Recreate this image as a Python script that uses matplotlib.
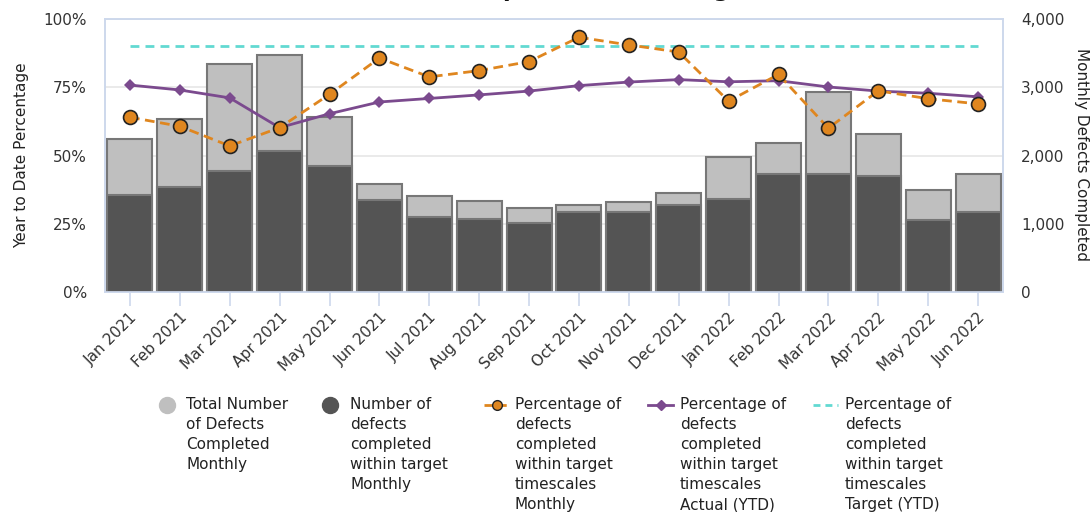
import matplotlib
matplotlib.use("Agg")
import matplotlib.pyplot as plt
from matplotlib.lines import Line2D
from matplotlib.ticker import FuncFormatter, MultipleLocator
import numpy as np

months = ["Jan 2021", "Feb 2021", "Mar 2021", "Apr 2021", "May 2021", "Jun 2021",
          "Jul 2021", "Aug 2021", "Sep 2021", "Oct 2021", "Nov 2021", "Dec 2021",
          "Jan 2022", "Feb 2022", "Mar 2022", "Apr 2022", "May 2022", "Jun 2022"]
total_completed = [2246, 2539, 3345, 3473, 2560, 1578, 1411, 1333, 1226, 1279, 1319, 1450,
                   1973, 2188, 2935, 2320, 1499, 1724]
within_target = [1421, 1534, 1773, 2070, 1851, 1348, 1104, 1070, 1011, 1177, 1177, 1270,
                 1363, 1734, 1734, 1705, 1050, 1177]
pct_monthly = [64.0, 60.7, 53.5, 60.2, 72.4, 85.7, 78.8, 81.1, 84.4, 93.3, 90.5, 87.9,
               69.9, 79.7, 60.0, 73.7, 70.8, 68.9]
pct_ytd = [75.8, 74.0, 71.1, 60.2, 65.3, 69.6, 70.9, 72.2, 73.6, 75.6, 76.9, 77.8,
           77.0, 77.4, 75.1, 73.6, 72.8, 71.5]
target_ytd = [90] * len(months)

W, H = 1091, 512
plt.rcParams["font.family"] = "DejaVu Sans"
fig = plt.figure(figsize=(W / 100, H / 100), dpi=100)

def fx(x):
    return x / W

def fy(y):
    return 1 - y / H

ax = fig.add_axes([fx(105), fy(292), fx(1003) - fx(105), fy(19) - fy(292)])
ax_bar = ax.twinx()

x = np.arange(len(months))
spine_col = "#cdd8ec"
text_col = "#333333"

# bars on the right-hand axis
ax_bar.bar(x, total_completed, width=0.9, color="#bfbfbf", edgecolor="#777777",
           linewidth=1.5, zorder=2)
ax_bar.bar(x, within_target, width=0.9, color="#545454", edgecolor="#777777",
           linewidth=1.5, zorder=3)
ax_bar.set_ylim(0, 4000)
ax_bar.yaxis.set_major_locator(MultipleLocator(1000))
ax_bar.yaxis.set_major_formatter(FuncFormatter(lambda v, p: f"{int(v):,}"))
ax_bar.grid(axis="y", color="#e6e6e6", linewidth=1.2, zorder=0)
ax_bar.set_axisbelow(True)
ax_bar.tick_params(axis="y", length=0, pad=13, labelsize=11, labelcolor=text_col)

# percentage lines on the left-hand axis, drawn above the bars
ax.set_zorder(ax_bar.get_zorder() + 1)
ax.patch.set_visible(False)
ax.plot(x, target_ytd, color="#62d9d2", linestyle=(0, (3.2, 2.2)), linewidth=2, zorder=3)
ax.plot(x, pct_ytd, color="#7b4a8e", linewidth=2, marker="D", markersize=6,
        markeredgewidth=0, zorder=4)
ax.plot(x, pct_monthly, color="#df861f", linestyle=(0, (3.5, 2)), linewidth=2,
        marker="o", markersize=10, markerfacecolor="#df861f",
        markeredgecolor="#222222", markeredgewidth=1.2, zorder=5)
ax.set_ylim(0, 100)
ax.yaxis.set_major_locator(MultipleLocator(25))
ax.yaxis.set_major_formatter(FuncFormatter(lambda v, p: f"{int(v)}%"))
ax.tick_params(axis="y", length=0, pad=13, labelsize=11, labelcolor=text_col)

ax.set_xlim(-0.5, len(months) - 0.5)
ax.set_xticks(x)
ax.set_xticklabels(months, rotation=45, ha="right", rotation_mode="anchor",
                   fontsize=11, color=text_col)
ax.tick_params(axis="x", length=10, width=1.2, color=spine_col, pad=3)
ax_bar.tick_params(axis="x", length=0)

for a in (ax, ax_bar):
    for s in a.spines.values():
        s.set_color(spine_col)
        s.set_linewidth(1.2)

# axis titles
fig.text(fx(22), fy(155), "Year to Date Percentage", rotation=90, fontsize=11,
         color="#222222", ha="center", va="center")
fig.text(fx(1082), fy(155), "Monthly Defects Completed", rotation=-90, fontsize=11,
         color="#222222", ha="center", va="center")

# title, mostly above the top edge of the canvas
fig.text(0.506, fy(-3), "Defects completed within target", fontsize=16,
         fontweight="bold", ha="center", va="baseline", color="#111111")

# legend below the chart
legend_items = [
    ("circle", "#bfbfbf", "Total Number\nof Defects\nCompleted\nMonthly"),
    ("circle", "#545454", "Number of\ndefects\ncompleted\nwithin target\nMonthly"),
    ("monthly", "#df861f", "Percentage of\ndefects\ncompleted\nwithin target\ntimescales\nMonthly"),
    ("ytd", "#7b4a8e", "Percentage of\ndefects\ncompleted\nwithin target\ntimescales\nActual (YTD)"),
    ("target", "#62d9d2", "Percentage of\ndefects\ncompleted\nwithin target\ntimescales\nTarget (YTD)"),
]
col_x = [167, 330, 497, 661, 826]
text_x = [186, 350, 515, 680, 845]
row_y = 405
for (kind, col, label), cx, tx in zip(legend_items, col_x, text_x):
    if kind == "circle":
        fig.add_artist(Line2D([fx(cx)], [fy(row_y)], marker="o", markersize=11.5,
                              color=col, linestyle="none", transform=fig.transFigure))
    elif kind == "monthly":
        fig.add_artist(Line2D([fx(cx - 13), fx(cx + 14)], [fy(row_y)] * 2, color=col,
                              linewidth=2, linestyle=(0, (3, 2)), transform=fig.transFigure))
        fig.add_artist(Line2D([fx(cx)], [fy(row_y)], marker="o", markersize=7,
                              markerfacecolor=col, markeredgecolor="#222222",
                              markeredgewidth=1, linestyle="none", transform=fig.transFigure))
    elif kind == "ytd":
        fig.add_artist(Line2D([fx(cx - 13), fx(cx + 12)], [fy(row_y)] * 2, color=col,
                              linewidth=2, transform=fig.transFigure))
        fig.add_artist(Line2D([fx(cx)], [fy(row_y)], marker="D", markersize=5,
                              color=col, linestyle="none", transform=fig.transFigure))
    else:
        fig.add_artist(Line2D([fx(cx - 13), fx(cx + 12)], [fy(row_y)] * 2, color=col,
                              linewidth=2, linestyle=(0, (2.5, 1.8)), transform=fig.transFigure))
    fig.text(fx(tx), fy(row_y - 8), label, fontsize=11, color="#222222",
             ha="left", va="top", linespacing=1.42)

fig.savefig("out.png", dpi=100, facecolor="white")
